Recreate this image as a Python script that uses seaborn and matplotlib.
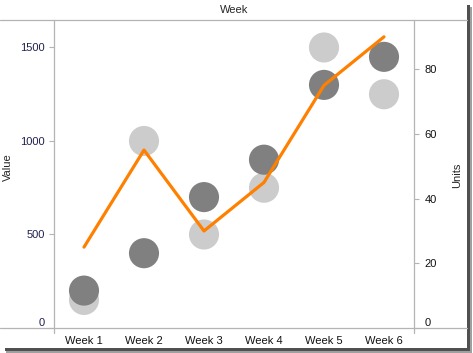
import numpy as np
import pandas as pd
import matplotlib.pyplot as plt
import seaborn as sns
from matplotlib.lines import Line2D
from matplotlib.patches import Rectangle

# datos
semanas = ["Week 1", "Week 2", "Week 3", "Week 4", "Week 5", "Week 6"]
valor_claro = [150, 1000, 500, 750, 1500, 1250]
valor_oscuro = [200, 400, 700, 900, 1300, 1450]
unidades = [25, 55, 30, 45, 75, 90]

W, H = 473, 353
GRIS_LINEA = "#b4b4b4"

sns.set_style("white")
plt.rcParams["font.family"] = ["Liberation Sans", "DejaVu Sans"]
plt.rcParams["font.size"] = 8

df = pd.DataFrame({
    "pos": np.arange(len(semanas)),
    "semana": semanas,
    "claro": valor_claro,
    "oscuro": valor_oscuro,
    "unidades": unidades,
})

fig = plt.figure(figsize=(W / 100, H / 100), dpi=100)
ax = fig.add_axes([54 / W, 25 / H, 360 / W, 308 / H])
ax2 = ax.twinx()

sns.scatterplot(data=df, x="pos", y="claro", ax=ax, s=470, color="#cccccc",
                edgecolor="none", linewidth=0, zorder=2)
sns.scatterplot(data=df, x="pos", y="oscuro", ax=ax, s=470, color="#808080",
                edgecolor="none", linewidth=0, zorder=3)
sns.lineplot(data=df, x="pos", y="unidades", ax=ax2, color="#ff8000",
             linewidth=2.3, zorder=4)

ax.set_xlim(-0.5, len(semanas) - 0.5)
ax.set_ylim(0, 1647)
ax2.set_ylim(0, 95.2)

ax.set_xticks(df["pos"])
ax.set_xticklabels(semanas)
ax.set_xticks(np.arange(len(semanas) + 1) - 0.5, minor=True)
ax.tick_params(axis="x", which="major", length=0, pad=6, labelcolor="#111111")
ax.tick_params(axis="x", which="minor", length=3.6, width=0.8, color=GRIS_LINEA)

ax.set_yticks([0, 500, 1000, 1500])
ax.tick_params(axis="y", left=True, length=3.6, width=0.8, color=GRIS_LINEA,
               pad=3, labelcolor="#202050")
ax2.set_yticks([0, 20, 40, 60, 80])
ax2.tick_params(axis="y", right=True, length=3.6, width=0.8, color=GRIS_LINEA,
                pad=4, labelcolor="#111111")

# el "0" va un poco por encima de la linea base
ax.get_yticklabels()[0].set_verticalalignment("bottom")
ax2.get_yticklabels()[0].set_verticalalignment("bottom")

ax.set_xlabel("")
ax.set_ylabel("")
ax2.set_ylabel("")
fig.text(8 / W, 1 - 167 / H, "Value", rotation=90, ha="center", va="center")
fig.text(457 / W, 1 - 175 / H, "Units", rotation=90, ha="center", va="center")
fig.text(234 / W, 1 - 10 / H, "Week", ha="center", va="center")

for a in (ax, ax2):
    for s in a.spines.values():
        s.set_visible(False)
ax2.patch.set_visible(False)

# lineas del marco
def linea(x0, y0, x1, y1, color=GRIS_LINEA, lw=0.9):
    fig.add_artist(Line2D([x0 / W, x1 / W], [1 - y0 / H, 1 - y1 / H],
                          color=color, lw=lw))

linea(0, 20, 467, 20)
linea(0, 328, 467, 328)
linea(54, 20, 54, 333)
linea(414, 20, 414, 333)

# sombra de la captura
fig.add_artist(Rectangle((467 / W, 1 - 350 / H), 3 / W, 345 / H,
                         color="#505050", lw=0))
fig.add_artist(Rectangle((470 / W, 1 - 351 / H), 2 / W, 344 / H,
                         color="#a0a0a0", lw=0))
fig.add_artist(Rectangle((5 / W, 1 - 351 / H), 465 / W, 3 / H,
                         color="#505050", lw=0))
fig.add_artist(Rectangle((6 / W, 1 - 353 / H), 466 / W, 2 / H,
                         color="#a0a0a0", lw=0))

fig.savefig("out.png", dpi=100)
plt.close()
